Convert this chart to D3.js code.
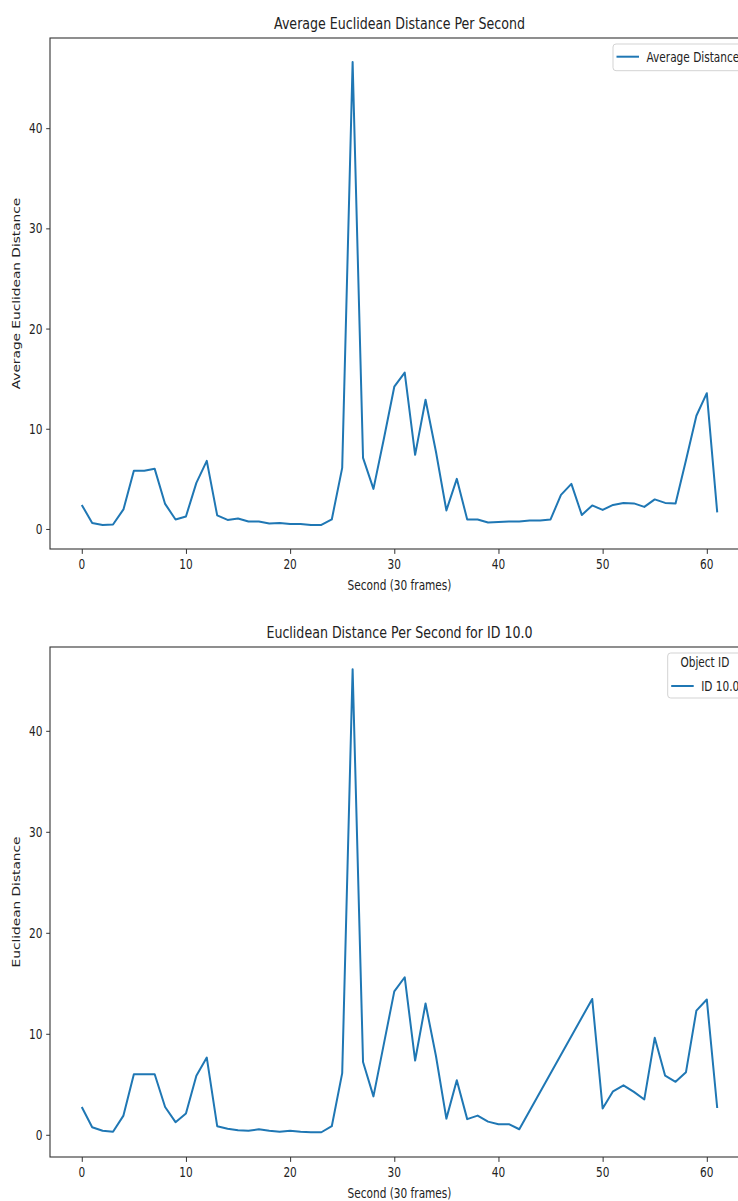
<!DOCTYPE html>
<html>
<head>
<meta charset="utf-8">
<script src="https://cdn.jsdelivr.net/npm/d3@7"></script>
<style>
  html, body { margin: 0; padding: 0; background: #fff; }
  svg { display: block; }
  text { font-family: "DejaVu Sans", sans-serif; fill: #222; }
</style>
</head>
<body>
<svg id="chart" width="738" height="1201"></svg>
<script>
// ---------------- DATA ----------------
const avgSeconds = d3.range(0, 62);
const avgDistance = [
  2.4, 0.6, 0.4, 0.45, 1.95, 5.8, 5.8, 6.0, 2.5, 0.95,
  1.25, 4.6, 6.8, 1.35, 0.9, 1.05, 0.75, 0.75, 0.55, 0.6,
  0.5, 0.5, 0.4, 0.4, 0.95, 6.1, 46.6, 7.1, 4.0, 9.0,
  14.2, 15.6, 7.4, 12.9, 7.7, 1.85, 5.0, 0.95, 0.95, 0.65,
  0.7, 0.75, 0.75, 0.85, 0.85, 0.95, 3.4, 4.5, 1.4, 2.35,
  1.9, 2.4, 2.6, 2.55, 2.2, 2.95, 2.6, 2.55, 6.85, 11.3,
  13.55, 1.65
];
const idSeconds = [
  0, 1, 2, 3, 4, 5, 6, 7, 8, 9, 10, 11, 12, 13, 14, 15, 16, 17, 18, 19, 20,
  21, 22, 23, 24, 25, 26, 27, 28, 29, 30, 31, 32, 33, 34, 35, 36, 37, 38, 39,
  40, 41, 42, 49, 50, 51, 52, 53, 54, 55, 56, 57, 58, 59, 60, 61
];
const idDistance = [
  2.75, 0.75, 0.4, 0.3, 1.9, 6.0, 6.0, 6.0, 2.75, 1.25, 2.1, 5.85, 7.65, 0.85,
  0.6, 0.45, 0.4, 0.55, 0.4, 0.3, 0.4, 0.3, 0.25, 0.25, 0.85, 6.1, 46.1, 7.2,
  3.8, 9.0, 14.2, 15.6, 7.35, 13.0, 7.8, 1.6, 5.4, 1.55, 1.9, 1.3, 1.05, 1.05,
  0.55, 13.45, 2.6, 4.3, 4.9, 4.25, 3.5, 9.6, 5.85, 5.25, 6.2, 12.3, 13.4, 2.65
];
const xTicks = [0, 10, 20, 30, 40, 50, 60];
const yTicks = [0, 10, 20, 30, 40];
const titles = ["Average Euclidean Distance Per Second", "Euclidean Distance Per Second for ID 10.0"];
const yLabels = ["Average Euclidean Distance", "Euclidean Distance"];
const xLabel = "Second (30 frames)";
const legendLabels = ["Average Distance", "ID 10.0"];
const legendTitle = "Object ID";

// ---------------- DRAW ----------------
const svg = d3.select("#chart");
const SX = 0.77;         // horizontal squeeze of the picture
const FS = 13.7, TFS = 16.4;
const LINE = "#1f77b4";

function txt(parent, x, y, str, size, anchor, rotate) {
  const g = parent.append("g")
    .attr("transform", `translate(${x},${y}) scale(${SX},1)` + (rotate ? " rotate(-90)" : ""));
  g.append("text").attr("font-size", size).attr("text-anchor", anchor || "start").text(str);
  return g;
}

function panel(cfg) {
  const g = svg.append("g");
  const x = d3.scaleLinear().domain(cfg.xDomain).range([cfg.left, cfg.right]);
  const y = d3.scaleLinear().domain(cfg.yDomain).range([cfg.bottom, cfg.top]);

  // line
  const line = d3.line().x(d => x(d[0])).y(d => y(d[1]));
  const pts = cfg.xs.map((v, i) => [v, cfg.ys[i]]);
  const clipId = "clip" + cfg.id;
  svg.append("clipPath").attr("id", clipId).append("rect")
    .attr("x", cfg.left).attr("y", cfg.top).attr("width", cfg.right - cfg.left).attr("height", cfg.bottom - cfg.top);
  g.append("path").datum(pts).attr("d", line)
    .attr("fill", "none").attr("stroke", LINE).attr("stroke-width", 2)
    .attr("stroke-linejoin", "round").attr("clip-path", `url(#${clipId})`);

  // spines
  g.append("rect").attr("x", cfg.left).attr("y", cfg.top)
    .attr("width", cfg.right - cfg.left).attr("height", cfg.bottom - cfg.top)
    .attr("fill", "none").attr("stroke", "#333").attr("stroke-width", 1.1);

  // x axis ticks
  const xa = g.append("g").attr("transform", `translate(0,${cfg.bottom})`)
    .call(d3.axisBottom(x).tickValues(xTicks).tickSize(4.9).tickFormat(""));
  xa.select(".domain").remove();
  xa.selectAll("line").attr("stroke", "#333");
  xTicks.forEach(t => txt(g, x(t), cfg.bottom + 20, String(t), FS, "middle"));

  // y axis ticks
  const ya = g.append("g").attr("transform", `translate(${cfg.left},0)`)
    .call(d3.axisLeft(y).tickValues(yTicks).tickSize(3.8).tickFormat(""));
  ya.select(".domain").remove();
  ya.selectAll("line").attr("stroke", "#333");
  yTicks.forEach(t => txt(g, cfg.left - 7.5, y(t) + 5, String(t), FS, "end"));

  // labels
  const cx = (cfg.left + cfg.right) / 2;
  txt(g, cx, cfg.top - 8.7, cfg.title, TFS, "middle");
  txt(g, cx, cfg.bottom + 41, xLabel, FS, "middle");
  txt(g, 20, (cfg.top + cfg.bottom) / 2, cfg.yLabel, FS, "middle", true);

  // legend
  const L = cfg.legend;
  g.append("rect").attr("x", L.x).attr("y", L.y).attr("width", L.w).attr("height", L.h)
    .attr("rx", 3).attr("fill", "#fff").attr("fill-opacity", 0.8)
    .attr("stroke", "#d3d3d3").attr("stroke-width", 1);
  let ly = L.y + 12.7;
  if (L.title) {
    txt(g, L.x + L.w / 2, L.y + 13.5, L.title, FS, "middle");
    ly = L.y + 33;
  }
  g.append("line").attr("x1", L.x + 3.5).attr("x2", L.x + 26).attr("y1", ly).attr("y2", ly)
    .attr("stroke", LINE).attr("stroke-width", 2);
  txt(g, L.x + 33.5, ly + 5, L.label, FS, "start");
}

panel({
  id: 1, xs: avgSeconds, ys: avgDistance,
  xDomain: [-3.05, 64.05], yDomain: [-2, 49],
  left: 50, right: 749, top: 38, bottom: 549,
  title: titles[0], yLabel: yLabels[0],
  legend: { x: 613, y: 44, w: 129, h: 26.7, label: legendLabels[0] }
});

panel({
  id: 2, xs: idSeconds, ys: idDistance,
  xDomain: [-3.05, 64.05], yDomain: [-2.2, 48.3],
  left: 50, right: 749, top: 647, bottom: 1157,
  title: titles[1], yLabel: yLabels[1],
  legend: { x: 667.7, y: 653, w: 74.3, h: 45, title: legendTitle, label: legendLabels[1] }
});
</script>
</body>
</html>
